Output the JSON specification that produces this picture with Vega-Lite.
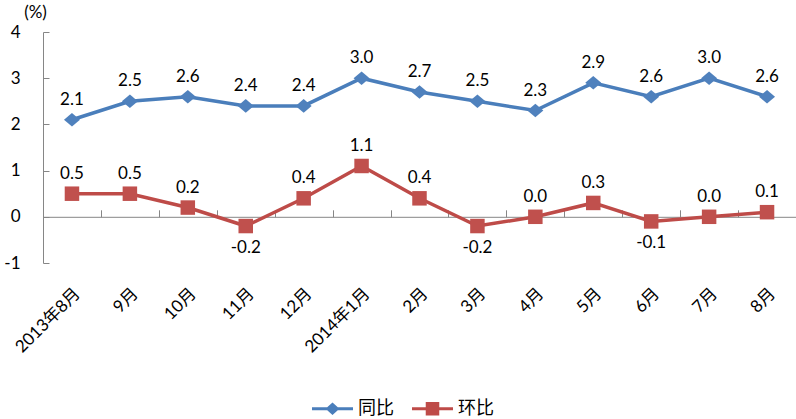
{
  "$schema": "https://vega.github.io/schema/vega-lite/v6.json",
  "width": 753,
  "height": 231,
  "autosize": {"type": "none"},
  "padding": {"left": 43, "top": 32, "right": 0, "bottom": 156},
  "background": "white",
  "config": {
    "view": {"stroke": null},
    "font": "Lato, Noto Sans CJK SC",
    "locale": {"number": {"decimal": ".", "thousands": ",", "grouping": [3], "currency": ["", ""], "minus": "-"}}
  },
  "data": {
    "values": [
      {"m": "2013年8月", "s": "同比", "v": 2.1},
      {"m": "9月", "s": "同比", "v": 2.5},
      {"m": "10月", "s": "同比", "v": 2.6},
      {"m": "11月", "s": "同比", "v": 2.4},
      {"m": "12月", "s": "同比", "v": 2.4},
      {"m": "2014年1月", "s": "同比", "v": 3.0},
      {"m": "2月", "s": "同比", "v": 2.7},
      {"m": "3月", "s": "同比", "v": 2.5},
      {"m": "4月", "s": "同比", "v": 2.3},
      {"m": "5月", "s": "同比", "v": 2.9},
      {"m": "6月", "s": "同比", "v": 2.6},
      {"m": "7月", "s": "同比", "v": 3.0},
      {"m": "8月", "s": "同比", "v": 2.6},
      {"m": "2013年8月", "s": "环比", "v": 0.5},
      {"m": "9月", "s": "环比", "v": 0.5},
      {"m": "10月", "s": "环比", "v": 0.2},
      {"m": "11月", "s": "环比", "v": -0.2},
      {"m": "12月", "s": "环比", "v": 0.4},
      {"m": "2014年1月", "s": "环比", "v": 1.1},
      {"m": "2月", "s": "环比", "v": 0.4},
      {"m": "3月", "s": "环比", "v": -0.2},
      {"m": "4月", "s": "环比", "v": 0.0},
      {"m": "5月", "s": "环比", "v": 0.3},
      {"m": "6月", "s": "环比", "v": -0.1},
      {"m": "7月", "s": "环比", "v": 0.0},
      {"m": "8月", "s": "环比", "v": 0.1}
    ]
  },
  "encoding": {
    "y": {
      "field": "v",
      "type": "quantitative",
      "scale": {"domain": [-1, 4], "nice": false, "zero": false},
      "axis": {
        "title": "(%)",
        "titleAngle": 0,
        "titleX": -8,
        "titleY": -20,
        "titleAlign": "center",
        "titleBaseline": "middle",
        "titleFontSize": 17,
        "titleFontWeight": "normal",
        "titleColor": "black",
        "values": [-1, 0, 1, 2, 3, 4],
        "format": "d",
        "grid": false,
        "tickSize": -6,
        "tickColor": "#868686",
        "domainColor": "#868686",
        "labelFontSize": 17,
        "labelColor": "black",
        "labelPadding": 29
      }
    }
  },
  "layer": [
    {
      "mark": {"type": "line", "strokeWidth": 3.5},
      "encoding": {
        "x": {
          "field": "m", "type": "nominal", "sort": null,
          "scale": {"type": "band", "paddingInner": 0, "paddingOuter": 0},
          "axis": {
            "orient": "top", "offset": -184.8, "labels": false, "title": null,
            "domainColor": "#868686", "tickColor": "#868686", "tickSize": 7,
            "tickBand": "extent", "grid": false
          }
        },
        "color": {
          "field": "s", "type": "nominal",
          "scale": {"domain": ["同比", "环比"], "range": ["#4A7EBB", "#BE4B48"]},
          "legend": null
        }
      }
    },
    {
      "transform": [{"filter": "datum.s == '同比'"}],
      "mark": {"type": "point", "filled": true, "opacity": 1, "shape": "M-1,0L0,-0.85L1,0L0,0.85Z", "size": 256, "color": "#4F81BD"},
      "encoding": {
        "x": {
          "field": "m", "type": "nominal", "sort": null,
          "axis": {
            "orient": "bottom", "domain": false, "ticks": false, "title": null,
            "labelAngle": -45, "labelFontSize": 17, "labelPadding": 22, "labelColor": "black"
          }
        }
      }
    },
    {
      "transform": [{"filter": "datum.s == '环比'"}],
      "mark": {"type": "point", "filled": true, "opacity": 1, "shape": "square", "size": 210, "color": "#C0504D"},
      "encoding": {
        "x": {"field": "m", "type": "nominal", "sort": null, "axis": null}
      }
    },
    {
      "transform": [{"filter": "datum.s == '同比' || datum.v >= 0"}],
      "mark": {"type": "text", "dy": -20, "fontSize": 17, "color": "black", "baseline": "middle"},
      "encoding": {
        "x": {"field": "m", "type": "nominal", "sort": null, "axis": null},
        "text": {"field": "v", "type": "quantitative", "format": ".1f"}
      }
    },
    {
      "transform": [{"filter": "datum.s == '环比' && datum.v < 0"}],
      "mark": {"type": "text", "dy": 22, "fontSize": 17, "color": "black", "baseline": "middle"},
      "encoding": {
        "x": {"field": "m", "type": "nominal", "sort": null, "axis": null},
        "text": {"field": "v", "type": "quantitative", "format": ".1f"}
      }
    },
    {
      "mark": {"type": "point", "filled": true, "opacity": 0},
      "encoding": {
        "x": {"field": "m", "type": "nominal", "sort": null, "axis": null},
        "color": {
          "field": "s", "type": "nominal",
          "legend": {
            "title": null, "orient": "none", "legendX": 269, "legendY": 356,
            "direction": "horizontal", "symbolSize": 1681, "labelFontSize": 18,
            "labelFont": "Noto Sans CJK SC", "labelOffset": 5, "columnPadding": 18,
            "labelColor": "black", "symbolStrokeWidth": 0, "symbolOpacity": 1,
            "encode": {"symbols": {"update": {"opacity": {"value": 1}}}}
          }
        },
        "shape": {
          "field": "s", "type": "nominal",
          "scale": {
            "domain": ["同比", "环比"],
            "range": [
              "M-1,-0.075H1V0.075H-1Z M0,-0.3L0.34,0L0,0.3L-0.34,0Z",
              "M-1,-0.075H1V0.075H-1Z M-0.33,-0.33H0.33V0.33H-0.33Z"
            ]
          },
          "legend": {
            "title": null, "orient": "none", "legendX": 269, "legendY": 356,
            "direction": "horizontal", "symbolSize": 1681, "labelFontSize": 18,
            "labelFont": "Noto Sans CJK SC", "labelOffset": 5, "columnPadding": 18,
            "labelColor": "black", "symbolStrokeWidth": 0, "symbolOpacity": 1,
            "encode": {"symbols": {"update": {"opacity": {"value": 1}}}}
          }
        }
      }
    }
  ],
  "resolve": {"axis": {"x": "independent"}, "legend": {"color": "independent", "shape": "independent"}}
}
